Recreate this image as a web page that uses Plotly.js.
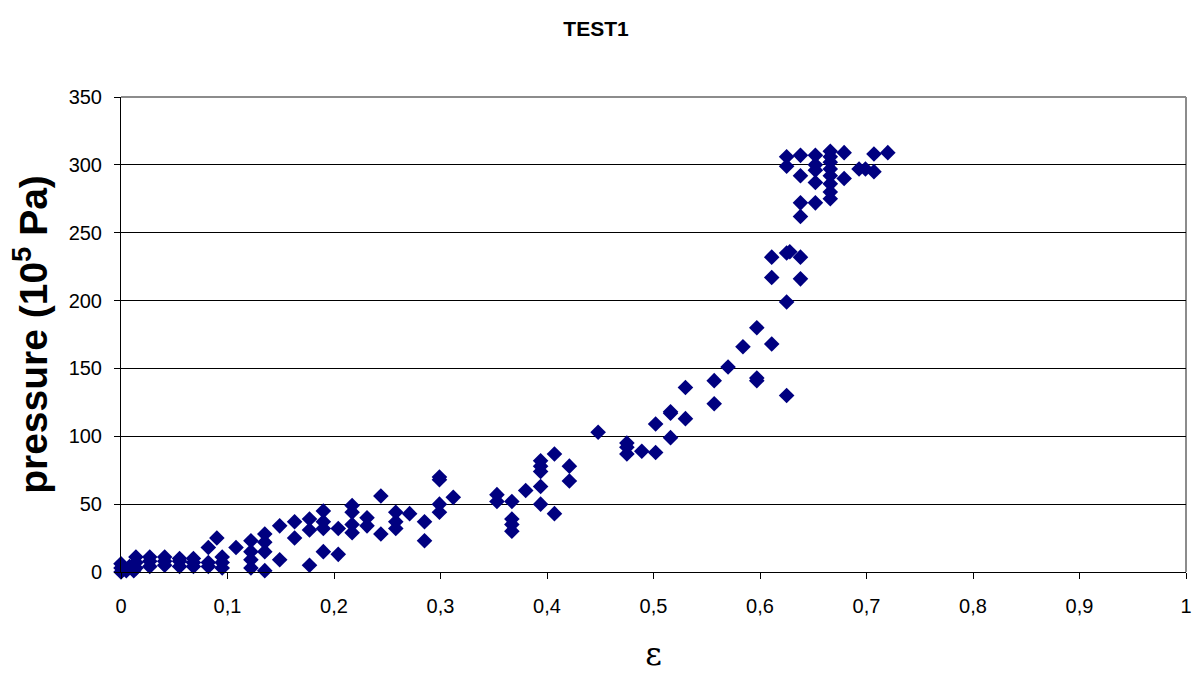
<!DOCTYPE html>
<html>
<head>
<meta charset="utf-8">
<script src="https://cdn.plot.ly/plotly-3.0.1.min.js"></script>
<style>html,body{margin:0;padding:0;background:#fff;}#chart{width:1192px;height:673px;}</style>
</head>
<body>
<div id="chart"></div>
<script>
const eps = [
 0,0,0,0.005,0.008,0.012,0.014,0.014,0.014,
 0.027,0.027,0.027,
 0.041,0.041,0.041,
 0.055,0.055,0.055,
 0.068,0.068,0.068,
 0.082,0.082,0.082,
 0.095,0.095,0.095,0.09,
 0.108,
 0.122,0.122,0.122,0.122,
 0.135,0.135,0.135,0.135,
 0.149,0.149,
 0.163,0.163,
 0.177,0.177,0.177,
 0.19,0.19,0.19,0.19,
 0.204,0.204,
 0.217,0.217,0.217,0.217,
 0.231,0.231,
 0.244,0.244,
 0.258,0.258,0.258,
 0.271,
 0.285,0.285,
 0.299,0.299,0.299,0.299,
 0.312,
 0.353,0.353,
 0.367,0.367,0.367,0.367,
 0.38,
 0.394,0.394,0.394,0.394,0.394,
 0.407,0.407,
 0.421,0.421,
 0.448,
 0.475,0.475,0.475,
 0.489,
 0.502,0.502,
 0.516,0.516,0.516,
 0.53,0.53,
 0.557,0.557,
 0.57,
 0.584,
 0.597,0.597,0.597,
 0.611,0.611,0.611,
 0.625,0.625,0.625,0.628,0.625,0.625,
 0.638,0.638,0.638,0.638,0.638,0.638,
 0.652,0.652,0.652,0.652,0.652,
 0.666,0.666,0.666,0.666,0.666,0.666,0.666,0.666,
 0.679,0.679,
 0.693,0.699,
 0.707,0.707,
 0.72
];
const pressure = [
 0,3,6,1,4,1,7,11,3,
 4,8,11,
 5,8,11,
 4,8,10,
 4,7,10,
 4,7,18,
 3,7,11,25,
 18,
 3,9,15,23,
 1,15,22,28,
 9,34,
 25,37,
 5,31,39,
 15,32,37,45,
 13,32,
 29,35,44,49,
 34,40,
 28,56,
 32,37,44,
 43,
 23,37,
 44,50,68,70,
 55,
 52,57,
 30,35,39,52,
 60,
 50,63,74,78,82,
 43,87,
 67,78,
 103,
 87,92,95,
 89,
 88,109,
 99,117,118,
 113,136,
 124,141,
 151,
 166,
 141,143,180,
 168,217,232,
 130,199,235,236,299,306,
 216,232,262,272,292,307,
 272,287,296,300,307,
 275,280,286,292,297,302,306,310,
 290,309,
 297,297,
 295,308,
 309
];
const xTicks = [0,0.1,0.2,0.3,0.4,0.5,0.6,0.7,0.8,0.9,1];
const yTicks = [0,50,100,150,200,250,300,350];
const titleText = 'TEST1';
const xTitle = 'ε';
const yTitle = 'pressure (10<sup>5</sup> Pa)';

const trace = {
  x: eps, y: pressure, type: 'scatter', mode: 'markers',
  marker: {symbol: 'diamond', size: 12, color: '#000080', line: {width: 0}},
  hoverinfo: 'x+y', cliponaxis: false
};

const layout = {
  width: 1192, height: 673,
  margin: {l: 121, r: 6, t: 97, b: 101},
  paper_bgcolor: '#ffffff', plot_bgcolor: '#ffffff',
  separators: ', ',
  showlegend: false,
  font: {family: '"Liberation Sans", Arial, sans-serif', color: '#000'},
  title: {text: '<b>' + titleText + '</b>', x: 0.5, xanchor: 'center', y: 0.958, yanchor: 'middle',
          font: {size: 21, family: '"Liberation Sans", Arial, sans-serif', color: '#000'}},
  xaxis: {
    range: [0, 1], tickvals: xTicks, ticks: 'outside', ticklen: 6, tickcolor: '#000', tickwidth: 1,
    ticklabelstandoff: 10,
    showgrid: false, zeroline: false, showline: true, linecolor: '#000', linewidth: 1,
    tickfont: {size: 20}, tickformat: '.1~f',
    title: {text: xTitle, font: {size: 32, family: '"DejaVu Serif", serif'}, standoff: 29}
  },
  yaxis: {
    range: [0, 350], tickvals: yTicks, ticks: 'outside', ticklen: 6, tickcolor: '#000', tickwidth: 1,
    ticklabelstandoff: 8,
    showgrid: true, gridcolor: '#000', gridwidth: 1, zeroline: false,
    showline: true, linecolor: '#000', linewidth: 1,
    tickfont: {size: 20},
    title: {text: '<b>' + yTitle + '</b>', font: {size: 39}, standoff: 8}
  },
  shapes: [
    {type: 'line', xref: 'paper', yref: 'paper', x0: 0, x1: 1, y0: 1, y1: 1, line: {color: '#8c8c8c', width: 2}, layer: 'below'},
    {type: 'line', xref: 'paper', yref: 'paper', x0: 1, x1: 1, y0: 0, y1: 1, line: {color: '#8c8c8c', width: 2}, layer: 'below'}
  ]
};

Plotly.newPlot('chart', [trace], layout, {displayModeBar: false, staticPlot: true});
</script>
</body>
</html>
